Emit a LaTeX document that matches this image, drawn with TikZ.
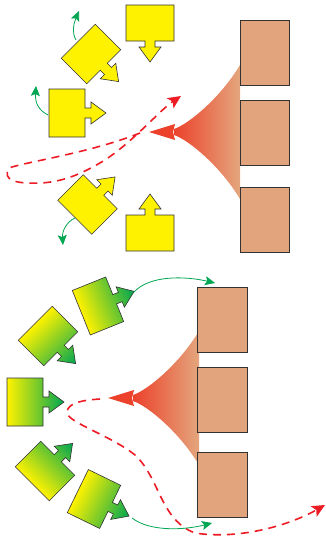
\documentclass[tikz,border=0pt]{standalone}
\usepackage{tikz}
\usetikzlibrary{arrows.meta}
\definecolor{cellyellow}{RGB}{255,242,0}
\definecolor{cellgreen}{RGB}{0,166,81}
\definecolor{blockcolor}{RGB}{226,164,124}
\definecolor{signalred}{RGB}{236,66,44}
\definecolor{signallight}{RGB}{228,166,124}
\definecolor{pathred}{RGB}{237,28,36}
\definecolor{edgegray}{RGB}{50,50,50}

% receptor cell: body with an arrow on its long side, pointing along #3
\newcommand{\receptor}[4]{%
  \begin{scope}[transform canvas={shift={(#1,#2)},rotate=#3}]
    \path[#4] (-18,-24) -- (18,-24) -- (18,-5) -- (24,-5) -- (24,-11)
      -- (39,0) -- (24,11) -- (24,5) -- (18,5) -- (18,24) -- (-18,24) -- cycle;
  \end{scope}}
% signal fan leaving the blocks, #1,#2 = tip of its arrow
\newcommand{\signalfan}[2]{%
  \begin{scope}[shift={(#1,#2)}]
    \shade[left color=signalred,right color=signallight]
      (25,-3) .. controls (40,-8) and (72,-35) .. (91,-67) -- (91,67)
      .. controls (72,35) and (40,8) .. (25,3) -- cycle;
    \fill[signalred] (0,0) -- (26,-8) -- (24,0) -- (26,8) -- cycle;
  \end{scope}}

\tikzset{
  outline/.style={draw=edgegray,line width=0.6pt},
  yellowcell/.style={outline,fill=cellyellow},
  greencell/.style={outline,left color=cellyellow,middle color=cellyellow!60!cellgreen,
    right color=cellgreen},
  block/.style={draw=edgegray,line width=0.8pt,fill=blockcolor},
  turn/.style={cellgreen,line width=0.8pt,-{Stealth[length=10pt,width=9pt,inset=2pt]}},
  route/.style={pathred,line width=1.6pt,dash pattern=on 8pt off 6pt,
    -{Stealth[length=13pt,width=12pt,inset=3pt]}},
}

\begin{document}
\begin{tikzpicture}[x=1pt,y=-1pt]
  \useasboundingbox (0,0) rectangle (326,536);

  % ---- upper panel ----
  \signalfan{149}{132}
  \foreach \top in {20,100,187} {
    \draw[block] (240,\top) rectangle (289,\top+65);
  }
  % random walk of the signal
  \draw[route] (140,133) .. controls (90,153) and (25,162) .. (9,168)
    .. controls (2,180) and (15,184) .. (40,183)
    .. controls (65,182) and (85,172) .. (105,160)
    .. controls (135,140) and (160,110) .. (181,96);
  % yellow cells
  \foreach \x/\y/\a in {150/23/-90,67/113/0,150/233/90,91/54/-45,87.5/204.5/45} {
    \receptor{\x}{\y}{\a}{yellowcell}
  }
  % tumbling
  \draw[turn] (76,40) .. controls (72,33) and (73,25) .. (79,11);
  \draw[turn] (48,115) .. controls (38,110) and (35,102) .. (36,86);
  \draw[turn] (75,218) .. controls (66,222) and (62,232) .. (63,245);

  % ---- lower panel ----
  \signalfan{108}{398}
  \foreach \top in {287,367,452} {
    \draw[block] (197,\top) rectangle (247,\top+65);
  }
  \draw[route] (100,399) .. controls (85,400) and (68,402) .. (67,412)
    .. controls (66,422) and (110,435) .. (135,455)
    .. controls (160,478) and (160,520) .. (195,533)
    .. controls (240,540) and (290,525) .. (325,505);
  % green cells, shaded towards their arrows
  \foreach \x/\y/\a in {98/306/22,48/336/-45,25/402/0,45/471/45,94/499/-26} {
    \receptor{\x}{\y}{\a}{greencell}
  }
  % swimming towards the blocks
  \draw[turn] (134,292) .. controls (150,275) and (185,276) .. (215,283);
  \draw[turn] (132,518) .. controls (150,532) and (185,530) .. (212,523);
\end{tikzpicture}
\end{document}
